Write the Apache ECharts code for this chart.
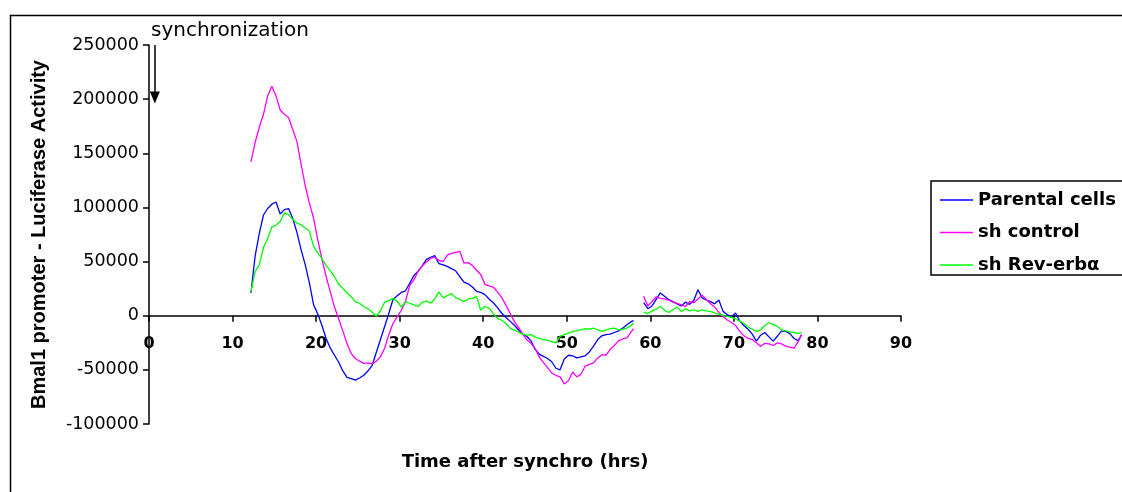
<!DOCTYPE html>
<html>
<head>
<meta charset="utf-8">
<script src="https://cdn.jsdelivr.net/npm/echarts@6/dist/echarts.min.js"></script>
<style>
html,body{margin:0;padding:0;background:#fff;}
#c{width:1122px;height:492px;}
</style>
</head>
<body>
<div id="c"></div>
<script>
// ---- data (time in hours after synchronization) ----
const timesA = [12.2,12.7,13.2,13.7,14.2,14.7,15.2,15.7,16.2,16.7,
  17.2,17.7,18.2,18.7,19.2,19.7,20.2,20.7,21.2,21.7,
  22.2,22.7,23.2,23.7,24.2,24.7,25.2,25.7,26.2,26.7,
  27.2,27.7,28.2,28.7,29.2,29.7,30.2,30.7,31.2,31.7,
  32.2,32.7,33.2,33.7,34.2,34.7,35.2,35.7,36.2,36.7,
  37.2,37.7,38.2,38.7,39.2,39.7,40.2,40.7,41.2,41.7,
  42.2,42.7,43.2,43.7,44.2,44.7,45.2,45.7,46.2,46.7,
  47.2,47.7,48.2,48.7,49.2,49.7,50.2,50.7,51.2,51.7,
  52.2,52.7,53.2,53.7,54.2,54.7,55.2,55.7,56.2,56.7,
  57.2,57.7,58.0];
const timesB = [59.2,59.7,60.2,60.7,61.2,61.7,62.2,62.7,63.2,63.7,
  64.2,64.7,65.2,65.7,66.2,66.7,67.2,67.7,68.2,68.7,
  69.2,69.7,70.2,70.7,71.2,71.7,72.2,72.7,73.2,73.7,
  74.2,74.7,75.2,75.7,76.2,76.7,77.2,77.7,78.1];
const gapTime = 58.6;

const parentalA = [21000,55000,76000,93000,99000,103000,105000,94000,98000,99000,
  90000,77000,61000,47000,30000,10000,1500,-9000,-21000,-30000,
  -36500,-43000,-51000,-57000,-58000,-59500,-57500,-55000,-51000,-46000,
  -34000,-22000,-10000,2000,15000,18500,21500,23000,30000,37000,
  41000,46000,52000,54000,55500,48000,47000,45500,43500,41500,
  36000,31000,29500,26500,22500,21500,19500,15500,12000,7500,
  2500,-1500,-5000,-8500,-13000,-17000,-19000,-23000,-31000,-35500,
  -37500,-39500,-42500,-48500,-50000,-40000,-36500,-37000,-39000,-38000,
  -37000,-33500,-28000,-22000,-18500,-17500,-17000,-15500,-14000,-11500,
  -8300,-5500,-4500];
const parentalB = [12000,6500,9000,15000,21000,18000,15000,13000,11000,9000,
  12500,10500,14000,24000,16500,14500,13000,11000,14500,4000,
  1000,-1000,2500,-5000,-9000,-12500,-17000,-23500,-18000,-15500,
  -19500,-23500,-19000,-14000,-14500,-16500,-21000,-23000,-17500];

const shControlA = [142000,160000,174000,186000,203000,212000,203000,190000,186000,183000,
  172000,161000,140000,120000,104000,90000,70000,52000,36000,22000,
  8000,-3000,-14000,-26000,-35000,-39500,-42000,-44000,-43500,-44500,
  -42000,-38000,-30000,-17500,-7000,-1000,5000,13000,28000,33000,
  41000,46000,49500,53000,54000,51000,50000,56000,57500,58500,
  59500,48500,49000,46500,42000,38000,29000,27500,26500,22000,
  17000,10000,2500,-5000,-10500,-16500,-22000,-25500,-30000,-38000,
  -43000,-48000,-53000,-55000,-56500,-63000,-60000,-52000,-56500,-54000,
  -46500,-45000,-43500,-39000,-36000,-36500,-31000,-27500,-23000,-21500,
  -20500,-15000,-12000];
const shControlB = [18000,9000,13000,17500,16000,15500,14500,12500,11500,10000,
  8500,13000,12000,15500,19000,15000,11000,8000,3000,-500,
  -4000,-6000,-9000,-14500,-18500,-21000,-22000,-25000,-28500,-25500,
  -26000,-27500,-25000,-26000,-28000,-29000,-30000,-24000,-17500];

const shRevA = [22000,41000,47000,63000,71000,82000,83500,87000,95000,93500,
  89000,85500,84000,81000,78000,64000,58000,52500,46500,41500,
  36000,29000,25000,21000,17500,13000,11500,8500,6500,3500,
  -500,4500,12500,14000,16000,13500,8000,13000,11500,10000,
  8500,12500,13500,11500,15500,22000,16500,18500,20500,16500,
  15000,13000,15500,16000,18000,5000,8500,7000,2000,-2500,
  -4000,-7000,-11500,-13000,-15000,-17000,-18000,-17500,-19500,-21000,
  -22000,-22500,-24000,-25000,-19000,-17500,-16000,-14500,-14000,-13000,
  -12000,-12500,-11500,-13000,-14500,-13000,-12000,-11500,-13000,-12500,
  -11500,-9000,-6700];
const shRevB = [3000,2000,4500,6000,8500,5000,3000,5500,8000,4000,
  6500,4500,5500,4000,5500,4500,4000,2500,1500,500,
  -500,-1500,-3000,-5000,-7000,-10500,-12500,-14500,-13000,-9000,
  -6500,-8000,-10000,-13000,-14000,-15000,-15500,-16500,-15500];

const seriesNames = ['Parental cells', 'sh control', 'sh Rev-erb\u03b1'];
const xTicks = {min: 0, max: 90, interval: 10};
const yTicks = {min: -100000, max: 250000, interval: 50000};
const syncTime = 0.7, syncFrom = 250000, syncTo = 201500;

function build(a, b) {
  const out = timesA.map((t, i) => [t, a[i]]);
  out.push([gapTime, '-']);
  timesB.forEach((t, i) => out.push([t, b[i]]));
  return out;
}

const colors = ['#0000ff', '#ff00ff', '#00ff00'];
const dataSets = [build(parentalA, parentalB), build(shControlA, shControlB), build(shRevA, shRevB)];

const chart = echarts.init(document.getElementById('c'), null, {renderer: 'canvas'});
const series = dataSets.map((d, i) => ({
  name: seriesNames[i],
  type: 'line',
  data: d,
  showSymbol: false,
  symbol: 'none',
  connectNulls: false,
  lineStyle: {color: colors[i], width: 1.3},
  itemStyle: {color: colors[i]},
  animation: false,
  z: 3 + i
}));
series[0].markLine = {
  silent: true,
  animation: false,
  symbol: ['none', 'triangle'],
  symbolSize: [10, 12],
  label: {show: false},
  lineStyle: {color: '#000', width: 1.5, type: 'solid'},
  data: [[{coord: [syncTime, syncFrom]}, {coord: [syncTime, syncTo]}]]
};

chart.setOption({
  backgroundColor: '#fff',
  animation: false,
  grid: {left: 149, right: 221, top: 45, bottom: 68, containLabel: false, outerBoundsMode: 'none'},
  legend: {
    orient: 'vertical',
    left: 931, top: 181,
    data: seriesNames,
    icon: 'rect',
    itemWidth: 33, itemHeight: 1.5,
    itemGap: 12.5,
    padding: [9, 10, 0, 9],
    borderColor: '#000', borderWidth: 1.5,
    textStyle: {fontFamily: 'DejaVu Sans', fontWeight: 'bold', fontSize: 18, color: '#000', lineHeight: 20}
  },
  xAxis: {
    type: 'value',
    min: xTicks.min, max: xTicks.max, interval: xTicks.interval,
    name: 'Time after synchro (hrs)',
    nameLocation: 'middle',
    nameGap: 29,
    nameTextStyle: {fontFamily: 'DejaVu Sans', fontWeight: 'bold', fontSize: 18, color: '#000'},
    axisLine: {onZero: true, lineStyle: {color: '#000', width: 1.5}},
    axisTick: {show: true, inside: false, length: 6, lineStyle: {color: '#000', width: 1.5}},
    axisLabel: {fontFamily: 'DejaVu Sans', fontWeight: 'bold', fontSize: 16, color: '#000', margin: -88, formatter: v => String(v)},
    splitLine: {show: false}
  },
  yAxis: {
    type: 'value',
    min: yTicks.min, max: yTicks.max, interval: yTicks.interval,
    name: 'Bmal1 promoter - Luciferase Activity',
    nameLocation: 'middle',
    nameGap: 100,
    nameTextStyle: {fontFamily: 'Liberation Sans', fontWeight: 'bold', fontSize: 20, color: '#000'},
    axisLine: {show: true, onZero: false, lineStyle: {color: '#000', width: 1.5}},
    axisTick: {show: true, inside: false, length: 6, lineStyle: {color: '#000', width: 1.5}},
    axisLabel: {fontFamily: 'DejaVu Sans', fontSize: 17.5, color: '#000', margin: 10, formatter: v => String(v)},
    splitLine: {show: false}
  },
  graphic: [
    {type: 'rect', left: 8, top: 13, shape: {x: 0, y: 0, width: 1300, height: 700}, style: {fill: 'none', stroke: '#000', lineWidth: 1.5}, silent: true, z: 0},
    {type: 'text', left: 151, top: 21, style: {text: 'synchronization', fontFamily: 'DejaVu Sans', fontSize: 20, fill: '#000'}, z: 10}
  ],
  series: series
});
</script>
</body>
</html>
